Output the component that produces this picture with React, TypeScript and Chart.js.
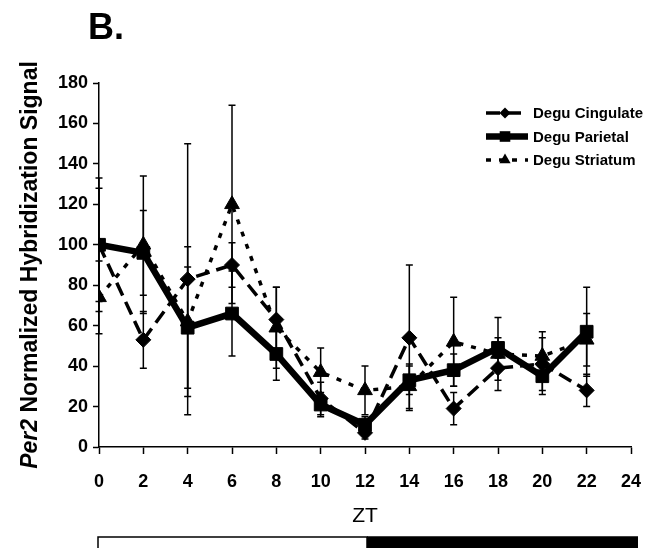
import React, { useEffect, useRef } from "react";
import { Chart, registerables } from "chart.js";

Chart.register(...registerables);

// Zeitgeber time of each sample
const zt = [0, 2, 4, 6, 8, 10, 12, 14, 16, 18, 20, 22];

// Per2 signal per region (mean) and error bar half-lengths
const cingulate = [100, 53, 83, 90, 63, 24, 7, 54, 19, 39, 41, 28];
const cingulateErr = [33, 14, 67, 11, 16, 8, 3, 36, 8, 6, 13, 8];
const parietal = [100, 96, 59, 66, 46, 21, 11, 33, 38, 49, 35, 57];
const parietalErr = [28, 21, 30, 21, 13, 6, 4, 7, 8, 5, 9, 22];
const striatum = [74, 100, 62, 120, 59, 37, 28, 30, 52, 46, 45, 53];
const striatumErr = [18, 34, 37, 49, 20, 12, 12, 11, 22, 18, 12, 13];

const seriesNames = ["Degu Cingulate", "Degu Parietal", "Degu Striatum"];

// Axis extents and light/dark phases (in ZT hours)
const xRange = [0, 24];
const yRange = [0, 180];
const lightPhase = [0, 12];
const darkPhase = [12, 24];

const FONT = "'Liberation Sans', Arial, Helvetica, sans-serif";

type Series = {
  name: string;
  values: number[];
  errors: number[];
  style: "rectRot" | "rect" | "triangle";
  lineWidth: number;
  dash: number[];
  radius: number;
  legendRadius: number;
};

const series: Series[] = [
  { name: seriesNames[0], values: cingulate, errors: cingulateErr, style: "rectRot", lineWidth: 3.5, dash: [14, 7], radius: 7.5, legendRadius: 5.5 },
  { name: seriesNames[1], values: parietal, errors: parietalErr, style: "rect", lineWidth: 6.5, dash: [], radius: 9, legendRadius: 7.5 },
  { name: seriesNames[2], values: striatum, errors: striatumErr, style: "triangle", lineWidth: 3.5, dash: [5, 8], radius: 8.5, legendRadius: 6.5 },
];

// Parietal drawn on top, striatum underneath
const drawOrder = [1, 0, 2];

function drawMarker(ctx: CanvasRenderingContext2D, style: string, x: number, y: number, r: number) {
  ctx.beginPath();
  if (style === "rect") {
    const s = r * Math.SQRT1_2;
    ctx.rect(x - s, y - s, 2 * s, 2 * s);
  } else if (style === "rectRot") {
    ctx.moveTo(x, y - r);
    ctx.lineTo(x + r, y);
    ctx.lineTo(x, y + r);
    ctx.lineTo(x - r, y);
    ctx.closePath();
  } else {
    const h = r * 1.5;
    const w = (r * Math.sqrt(3)) / 2;
    ctx.moveTo(x, y - r);
    ctx.lineTo(x + w, y - r + h);
    ctx.lineTo(x - w, y - r + h);
    ctx.closePath();
  }
  ctx.fill();
}

const errorBarPlugin = {
  id: "errorBars",
  beforeDatasetsDraw(chart: any) {
    const { ctx, scales } = chart;
    const xs = scales.x;
    const ys = scales.y;
    ctx.save();
    ctx.strokeStyle = "#000";
    ctx.lineWidth = 1.5;
    ctx.setLineDash([]);
    series.forEach((s) => {
      s.values.forEach((v, i) => {
        const x = xs.getPixelForValue(zt[i]);
        const yt = ys.getPixelForValue(v + s.errors[i]);
        const yb = ys.getPixelForValue(Math.max(0, v - s.errors[i]));
        ctx.beginPath();
        ctx.moveTo(x, yt);
        ctx.lineTo(x, yb);
        ctx.moveTo(x - 3.5, yt);
        ctx.lineTo(x + 3.5, yt);
        ctx.moveTo(x - 3.5, yb);
        ctx.lineTo(x + 3.5, yb);
        ctx.stroke();
      });
    });
    ctx.restore();
  },
};

const decorPlugin = {
  id: "decor",
  afterDraw(chart: any) {
    const { ctx, scales, chartArea } = chart;
    const xs = scales.x;
    ctx.save();
    ctx.fillStyle = "#000";
    ctx.strokeStyle = "#000";

    // panel letter
    ctx.font = `bold 36px ${FONT}`;
    ctx.textAlign = "left";
    ctx.textBaseline = "alphabetic";
    ctx.fillText("B.", 88, 39);

    // y-axis title, gene name in italics
    const italicPart = "Per2";
    const restPart = " Normalized Hybridization Signal";
    const fi = `italic bold 23px ${FONT}`;
    const fr = `bold 23px ${FONT}`;
    ctx.font = fi;
    const wi = ctx.measureText(italicPart).width;
    ctx.font = fr;
    const wr = ctx.measureText(restPart).width;
    ctx.translate(37, (chartArea.top + chartArea.bottom) / 2);
    ctx.rotate(-Math.PI / 2);
    const start = -(wi + wr) / 2;
    ctx.font = fi;
    ctx.fillText(italicPart, start, 0);
    ctx.font = fr;
    ctx.fillText(restPart, start + wi, 0);
    ctx.setTransform(1, 0, 0, 1, 0, 0);

    // x-axis title
    ctx.font = `21px ${FONT}`;
    ctx.textAlign = "center";
    ctx.textBaseline = "middle";
    ctx.fillText("ZT", xs.getPixelForValue(12), 516);

    // light/dark bar
    const xl = xs.getPixelForValue(lightPhase[0]) - 1;
    const xm = xs.getPixelForValue(darkPhase[0]) + 2;
    const xr = xs.getPixelForValue(darkPhase[1]) + 7;
    const yTop = 537;
    ctx.lineWidth = 1.5;
    ctx.strokeRect(xl, yTop, xm - xl, 20);
    ctx.fillRect(xm, yTop - 0.75, xr - xm, 21);

    // legend
    const rows = [113, 136.5, 160];
    const lx0 = 486;
    const lx1 = 528;
    series.forEach((s, i) => {
      const y = rows[i];
      ctx.save();
      ctx.lineWidth = s.lineWidth;
      ctx.setLineDash(s.dash);
      ctx.beginPath();
      ctx.moveTo(lx0, y);
      ctx.lineTo(lx1, y);
      ctx.stroke();
      ctx.restore();
      ctx.save();
      ctx.fillStyle = "#000";
      drawMarker(ctx, s.style, 505, y, s.legendRadius);
      ctx.restore();
      ctx.font = `bold 15px ${FONT}`;
      ctx.textAlign = "left";
      ctx.textBaseline = "middle";
      ctx.fillStyle = "#000";
      ctx.fillText(s.name, 533, y + 1);
    });
    ctx.restore();
  },
};

export default function App() {
  const canvasRef = useRef<HTMLCanvasElement | null>(null);

  useEffect(() => {
    if (!canvasRef.current) return;
    const tickFont = { family: FONT, size: 18, weight: "bold" as const };
    const datasets = drawOrder.map((k) => {
      const s = series[k];
      return {
        label: s.name,
        data: zt.map((x, i) => ({ x, y: s.values[i] })),
        borderColor: "#000",
        backgroundColor: "#000",
        borderWidth: s.lineWidth,
        borderDash: s.dash,
        borderCapStyle: "butt" as const,
        pointStyle: s.style,
        pointRadius: s.radius,
        pointBackgroundColor: "#000",
        pointBorderColor: "#000",
        pointBorderWidth: 1,
        tension: 0,
        fill: false,
      };
    });
    const chart = new Chart(canvasRef.current, {
      type: "line",
      data: { datasets },
      options: {
        animation: false,
        responsive: false,
        devicePixelRatio: 1,
        layout: { padding: { top: 83, right: 16, left: 0, bottom: 0 } },
        plugins: {
          legend: { display: false },
          tooltip: { enabled: false },
          title: { display: false },
        },
        scales: {
          x: {
            type: "linear",
            min: xRange[0],
            max: xRange[1],
            ticks: { stepSize: 2, color: "#000", font: tickFont, padding: 17, maxRotation: 0, autoSkip: false },
            grid: { display: true, drawOnChartArea: false, drawTicks: true, tickLength: 7, tickColor: "#000", tickWidth: 1.5, color: "#000" },
            border: { display: true, color: "#000", width: 1.5 },
            afterFit: (s: any) => {
              s.height = 101;
              s.paddingLeft = 0;
              s.paddingRight = 0;
            },
          },
          y: {
            type: "linear",
            min: yRange[0],
            max: yRange[1],
            ticks: { stepSize: 20, color: "#000", font: tickFont, padding: 5 },
            grid: { display: true, drawOnChartArea: false, drawTicks: true, tickLength: 6, tickColor: "#000", tickWidth: 1.5, color: "#000" },
            border: { display: true, color: "#000", width: 1.5 },
            afterFit: (s: any) => {
              s.width = 99;
              s.paddingTop = 0;
              s.paddingBottom = 0;
            },
          },
        },
      },
      plugins: [errorBarPlugin, decorPlugin],
    } as any);
    return () => chart.destroy();
  }, []);

  return (
    <div style={{ position: "fixed", left: 0, top: 0, width: 647, height: 548, background: "#fff", overflow: "hidden" }}>
      <canvas ref={canvasRef} width={647} height={548} style={{ width: 647, height: 548, display: "block" }} />
    </div>
  );
}
